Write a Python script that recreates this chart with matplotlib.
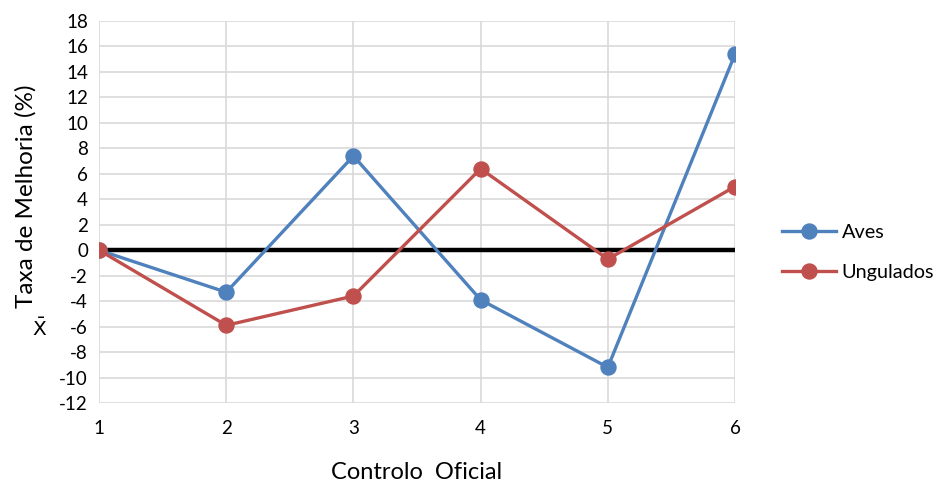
import matplotlib.pyplot as plt

controlo = [1, 2, 3, 4, 5, 6]
aves = [0, -3.3, 7.4, -3.9, -9.2, 15.4]
ungulados = [0, -5.9, -3.6, 6.4, -0.7, 5.0]
yticks = list(range(-12, 19, 2))

plt.rcParams['font.family'] = ['Lato', 'DejaVu Sans']
plt.rcParams['axes.unicode_minus'] = False

fig = plt.figure(figsize=(9.46, 4.84), dpi=100)
ax = fig.add_axes([0.1047, 0.1674, 0.6723, 0.7892])

ax.axhline(0, color='black', linewidth=3.2, zorder=2)
ax.plot(controlo, aves, color='#4F81BD', linewidth=2.4, marker='o', markersize=10.8, label='Aves', zorder=3)
ax.plot(controlo, ungulados, color='#C0504D', linewidth=2.4, marker='o', markersize=10.8, label='Ungulados', zorder=4)

ax.set_xlim(1, 6)
ax.set_ylim(-12, 18)
ax.set_xticks(controlo)
ax.set_yticks(yticks)
ax.grid(True, color='#D9D9D9', linewidth=1.2, zorder=0)
ax.set_axisbelow(True)
for s in ax.spines.values():
    s.set_visible(False)
ax.tick_params(length=0, labelsize=13.5, pad=8)
ax.tick_params(axis='x', pad=12)

ax.set_xlabel('Controlo  Oficial', fontsize=17, labelpad=18)
ax.set_ylabel('Taxa de Melhoria (%)', fontsize=17.5)
ax.yaxis.set_label_coords(-0.0975, 0.54)
fig.text(0.042, 0.322, r'$\bar{\mathrm{X}}$', fontsize=14.5, ha='center', va='center')

ax.legend(loc='upper left', bbox_to_anchor=(782 / 946, 1 - 224 / 484), bbox_transform=fig.transFigure,
          frameon=False, fontsize=14.3, borderpad=0, borderaxespad=0,
          handlelength=2.7, handletextpad=0.3, labelspacing=1.15)

fig.savefig('out.png', dpi=100)
